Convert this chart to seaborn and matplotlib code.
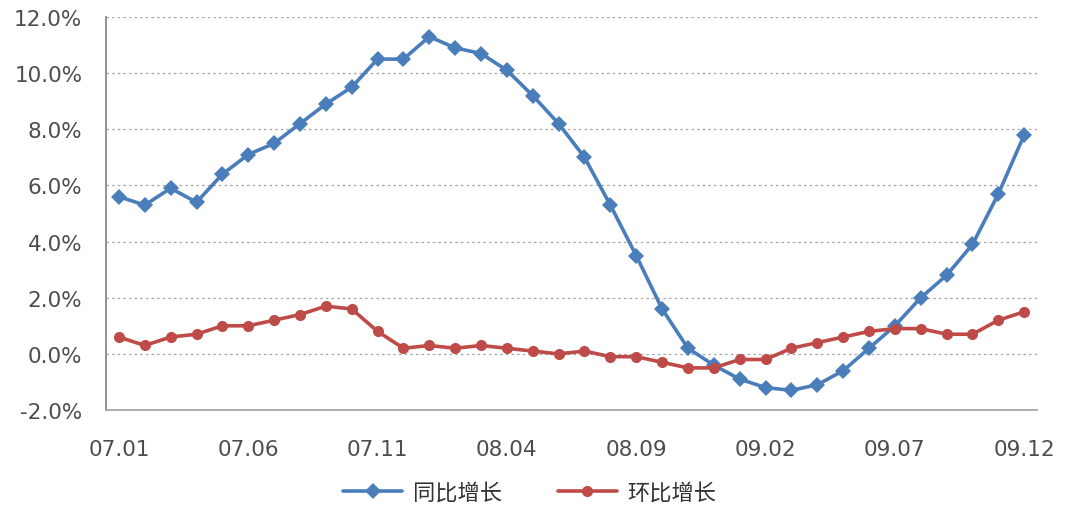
import matplotlib
matplotlib.use("Agg")
import matplotlib.pyplot as plt
import seaborn as sns
import pandas as pd
from matplotlib.ticker import FuncFormatter, MultipleLocator

# Monthly growth rates, 2007.01 - 2009.12 (%)
months = [f"{y:02d}.{m:02d}" for y in (7, 8, 9) for m in range(1, 13)]
yoy = [5.6, 5.3, 5.9, 5.4, 6.4, 7.1, 7.5, 8.2, 8.9, 9.5, 10.5, 10.5,
       11.3, 10.9, 10.7, 10.1, 9.2, 8.2, 7.0, 5.3, 3.5, 1.6, 0.2, -0.4,
       -0.9, -1.2, -1.3, -1.1, -0.6, 0.2, 1.0, 2.0, 2.8, 3.9, 5.7, 7.8]
mom = [0.6, 0.3, 0.6, 0.7, 1.0, 1.0, 1.2, 1.4, 1.7, 1.6, 0.8, 0.2,
       0.3, 0.2, 0.3, 0.2, 0.1, 0.0, 0.1, -0.1, -0.1, -0.3, -0.5, -0.5,
       -0.2, -0.2, 0.2, 0.4, 0.6, 0.8, 0.9, 0.9, 0.7, 0.7, 1.2, 1.5]
series_names = ["同比增长", "环比增长"]
tick_step = 5

df = pd.DataFrame({
    "idx": list(range(len(months))) * 2,
    "value": yoy + mom,
    "series": [series_names[0]] * len(yoy) + [series_names[1]] * len(mom),
})

sns.set_theme(style="white")
plt.rcParams["font.family"] = ["DejaVu Sans", "Noto Sans CJK SC"]

fig = plt.figure(figsize=(10.77, 5.06), dpi=100)
ax = fig.add_axes([0.0984, 0.1877, 0.8646, 0.7767])

palette = {series_names[0]: "#4A7EBB", series_names[1]: "#BE4B48"}
markers = {series_names[0]: "D", series_names[1]: "o"}
sns.lineplot(data=df, x="idx", y="value", hue="series", style="series",
             palette=palette, markers=markers, dashes=False, ax=ax,
             linewidth=2.6, markersize=8, markeredgewidth=0)

ax.set_xlim(-0.5, len(months) - 0.5)
ax.set_ylim(-2, 12)
ax.yaxis.set_major_locator(MultipleLocator(2))
ax.yaxis.set_major_formatter(FuncFormatter(lambda v, _: f"{v:.1f}%"))
ticks = list(range(0, len(months), tick_step))
ax.set_xticks(ticks)
ax.set_xticklabels([months[i] for i in ticks])
ax.set_xlabel("")
ax.set_ylabel("")

for v in range(0, 13, 2):
    ax.axhline(v, color="#A6A6A6", linestyle=(0, (2, 2.5)), linewidth=0.9, zorder=0)

for side in ("top", "right"):
    ax.spines[side].set_visible(False)
ax.spines["left"].set_color("#808080")
ax.spines["left"].set_linewidth(1.2)
ax.spines["bottom"].set_color("#A0A0A0")
ax.spines["bottom"].set_linewidth(1.2)

ax.tick_params(axis="both", length=0, labelsize=15.5, labelcolor="#4D4D4D")
ax.tick_params(axis="x", pad=21)
ax.tick_params(axis="y", pad=17)

handles, labels = ax.get_legend_handles_labels()
ax.legend(handles, labels, loc="center", bbox_to_anchor=(0.492, 0.026),
          bbox_transform=fig.transFigure, ncol=2, frameon=False,
          fontsize=16, handlelength=2.65, handletextpad=0.5, columnspacing=2.5,
          labelcolor="#333333")

fig.savefig("out.png", dpi=100)
